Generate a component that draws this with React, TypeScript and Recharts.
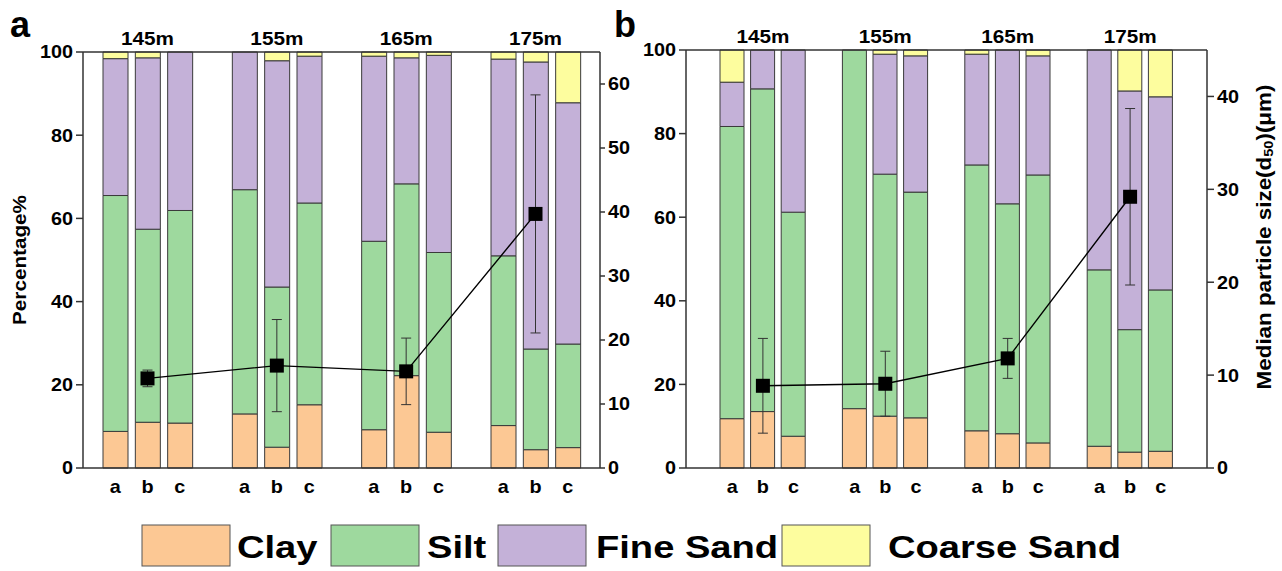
import React from 'react';
import { ComposedChart, Bar, Line, XAxis, YAxis, ErrorBar } from 'recharts';

// categories
const groups = ['145m', '155m', '165m', '175m'];
const samples = ['a', 'b', 'c'];

// panel a, percentages per sample (145a..175c)
const clayA = [8.8, 11.0, 10.8, 13.0, 5.0, 15.2, 9.2, 22.2, 8.6, 10.2, 4.4, 4.9];
const siltA = [56.7, 46.4, 51.1, 53.9, 38.5, 48.5, 45.3, 46.1, 43.2, 40.8, 24.2, 24.9];
const fineA = [32.9, 41.2, 38.1, 33.1, 54.4, 35.3, 44.5, 30.3, 47.4, 47.3, 69.0, 58.0];
const coarseA = [1.6, 1.4, 0, 0, 2.1, 1.0, 1.0, 1.4, 0.8, 1.7, 2.4, 12.2];
// panel a, median particle size (um) per group
const d50A = [14.0, 16.0, 15.1, 39.7];
const errA = [1.3, 7.2, 5.2, 18.6];

// panel b
const clayB = [11.8, 13.5, 7.6, 14.2, 12.4, 12.0, 8.9, 8.2, 6.0, 5.2, 3.8, 4.0];
const siltB = [69.9, 77.2, 53.6, 85.8, 57.9, 54.0, 63.6, 55.0, 64.1, 42.2, 29.3, 38.6];
const fineB = [10.6, 9.3, 38.8, 0, 28.7, 32.6, 26.5, 36.8, 28.5, 52.6, 57.1, 46.2];
const coarseB = [7.7, 0, 0, 0, 1.0, 1.4, 1.0, 0, 1.4, 0, 9.8, 11.2];
const d50B = [8.85, 9.07, 11.8, 29.2];
const errB = [5.1, 3.5, 2.15, 9.5];

const leftTicks = [0, 20, 40, 60, 80, 100];
const rightTicksA = [0, 10, 20, 30, 40, 50, 60];
const rightTicksB = [0, 10, 20, 30, 40];

const seriesNames = ['Clay', 'Silt', 'Fine Sand', 'Coarse Sand'];
const seriesKeys = ['clay', 'silt', 'fine', 'coarse'];
const seriesColors = ['#FCC894', '#9ED99E', '#C4B1D8', '#FDFD9E'];

const FONT = 'Arial, "Liberation Sans", sans-serif';
const AXIS = '#333';

function buildRows(clay: number[], silt: number[], fine: number[], coarse: number[], d50: number[], err: number[]) {
  const rows: any[] = [];
  groups.forEach((g, gi) => {
    if (gi > 0) rows.push({ key: `gap${gi}` });
    samples.forEach((s, si) => {
      const i = gi * 3 + si;
      rows.push({
        key: `${g}-${s}`,
        clay: clay[i],
        silt: silt[i],
        fine: fine[i],
        coarse: coarse[i],
        d50: s === 'b' ? d50[gi] : null,
        err: s === 'b' ? err[gi] : null,
      });
    });
  });
  return rows;
}

const bottomFmt = (v: string) => (v.startsWith('gap') ? '' : v.split('-')[1]);
const topFmt = (v: string) => (v.endsWith('-b') ? v.split('-')[0] : '');
const numFmt = (v: any) => String(v);

function Tick(props: any) {
  const { x, y, payload, textAnchor, verticalAnchor, fmt, size = 18, sx = 1.1 } = props;
  const label = fmt(payload.value);
  if (!label) return null;
  const dy = verticalAnchor === 'start' ? '0.71em' : verticalAnchor === 'end' ? '0' : '0.355em';
  return (
    <g transform={`translate(${x},${y}) scale(${sx},1)`}>
      <text x={0} y={0} dy={dy} textAnchor={textAnchor} fontFamily={FONT} fontWeight="bold" fontSize={size} fill="#000">
        {label}
      </text>
    </g>
  );
}

const Square = (p: any) => {
  if (p.cy == null || p.value == null) return <g key={p.key} />;
  return <rect key={p.key} x={p.cx - 7} y={p.cy - 7} width={14} height={14} fill="#000" />;
};

const leftLabel = (p: any) => {
  const vb = p.viewBox;
  return (
    <text
      transform={`translate(${vb.x + 20},${vb.y + vb.height / 2}) rotate(-90) scale(1.15,1)`}
      textAnchor="middle"
      dominantBaseline="central"
      fontFamily={FONT}
      fontWeight="bold"
      fontSize={18}
      fill="#000"
    >
      Percentage%
    </text>
  );
};

const rightLabel = (p: any) => {
  const vb = p.viewBox;
  return (
    <text
      transform={`translate(${vb.x + 56},${vb.y + vb.height / 2 - 22}) rotate(-90) scale(1.12,1)`}
      textAnchor="middle"
      dominantBaseline="central"
      fontFamily={FONT}
      fontWeight="bold"
      fontSize={20}
      fill="#000"
    >
      <tspan>Median particle size(d</tspan>
      <tspan fontSize={13} dy={5}>50</tspan>
      <tspan dy={-5}>)(μm)</tspan>
    </text>
  );
};

interface PanelProps {
  rows: any[];
  top: number;
  leftW: number;
  rightW: number;
  pad: number;
  barSize: number;
  rightDomain: number[];
  rightTicks: number[];
  rightTickSize: number;
  showLeftLabel?: boolean;
  showRightLabel?: boolean;
}

function Panel({ rows, top, leftW, rightW, pad, barSize, rightDomain, rightTicks, rightTickSize, showLeftLabel, showRightLabel }: PanelProps) {
  const axisLine = { stroke: AXIS, strokeWidth: 1.5 };
  return (
    <ComposedChart width={641} height={500} data={rows} margin={{ top, right: 0, bottom: 2, left: 0 }} barGap={0}>
      <XAxis
        xAxisId="bottom"
        dataKey="key"
        orientation="bottom"
        interval={0}
        height={30}
        padding={{ left: pad, right: pad }}
        tickLine={false}
        tickMargin={6}
        axisLine={axisLine}
        tick={<Tick fmt={bottomFmt} />}
      />
      <XAxis
        xAxisId="top"
        dataKey="key"
        orientation="top"
        interval={0}
        height={30}
        padding={{ left: pad, right: pad }}
        tickLine={false}
        tickMargin={1}
        axisLine={axisLine}
        tick={<Tick fmt={topFmt} size={18.5} sx={1.12} />}
      />
      <YAxis
        yAxisId="left"
        domain={[0, 100]}
        ticks={leftTicks}
        width={leftW}
        tickSize={7}
        tickMargin={3}
        axisLine={axisLine}
        tickLine={{ stroke: AXIS, strokeWidth: 1.5 }}
        tick={<Tick fmt={numFmt} />}
        label={showLeftLabel ? leftLabel : undefined}
      />
      <YAxis
        yAxisId="right"
        orientation="right"
        domain={rightDomain}
        allowDataOverflow
        ticks={rightTicks}
        width={rightW}
        tickSize={rightTickSize}
        tickMargin={3}
        axisLine={axisLine}
        tickLine={{ stroke: AXIS, strokeWidth: 1.5 }}
        tick={<Tick fmt={numFmt} />}
        label={showRightLabel ? rightLabel : undefined}
      />
      {seriesKeys.map((k, i) => (
        <Bar
          key={k}
          xAxisId="bottom"
          yAxisId="left"
          dataKey={k}
          name={seriesNames[i]}
          stackId="s"
          barSize={barSize}
          fill={seriesColors[i]}
          stroke="#3a3a3a"
          strokeWidth={1}
          isAnimationActive={false}
        />
      ))}
      <Line
        xAxisId="bottom"
        yAxisId="right"
        dataKey="d50"
        type="linear"
        connectNulls
        stroke="#000"
        strokeWidth={1.4}
        dot={Square}
        activeDot={false}
        isAnimationActive={false}
      >
        <ErrorBar dataKey="err" width={5} strokeWidth={1} stroke="#333" direction="y" />
      </Line>
    </ComposedChart>
  );
}

const legendBoxX = [142, 331, 498, 782];
const legendTextX = [237, 427, 596, 888];

export default function App() {
  const rowsA = buildRows(clayA, siltA, fineA, coarseA, d50A, errA);
  const rowsB = buildRows(clayB, siltB, fineB, coarseB, d50B, errB);
  return (
    <div style={{ position: 'absolute', left: 0, top: 0, width: 1282, height: 571, background: '#fff', fontFamily: FONT }}>
      <div style={{ position: 'absolute', left: 0, top: 0 }}>
        <Panel rows={rowsA} top={22} leftW={83} rightW={41} pad={16} barSize={25}
          rightDomain={[0, 65]} rightTicks={rightTicksA} rightTickSize={5} showLeftLabel />
      </div>
      <div style={{ position: 'absolute', left: 641, top: 0 }}>
        <Panel rows={rowsB} top={20} leftW={45} rightW={75} pad={31} barSize={24}
          rightDomain={[0, 45]} rightTicks={rightTicksB} rightTickSize={7} showRightLabel />
      </div>
      <svg width={1282} height={571} style={{ position: 'absolute', left: 0, top: 0, pointerEvents: 'none' }}>
        <text x={10} y={37} fontFamily={FONT} fontWeight="bold" fontSize={36} fill="#000">a</text>
        <text x={614} y={37} fontFamily={FONT} fontWeight="bold" fontSize={36} fill="#000">b</text>
        {seriesNames.map((n, i) => (
          <g key={n}>
            <rect x={legendBoxX[i]} y={525} width={88} height={41} fill={seriesColors[i]} stroke="#555" strokeWidth={1} />
            <text
              transform={`translate(${legendTextX[i]},558) scale(1.23,1)`}
              fontFamily={FONT}
              fontWeight="bold"
              fontSize={31}
              fill="#000"
            >
              {n}
            </text>
          </g>
        ))}
      </svg>
    </div>
  );
}
